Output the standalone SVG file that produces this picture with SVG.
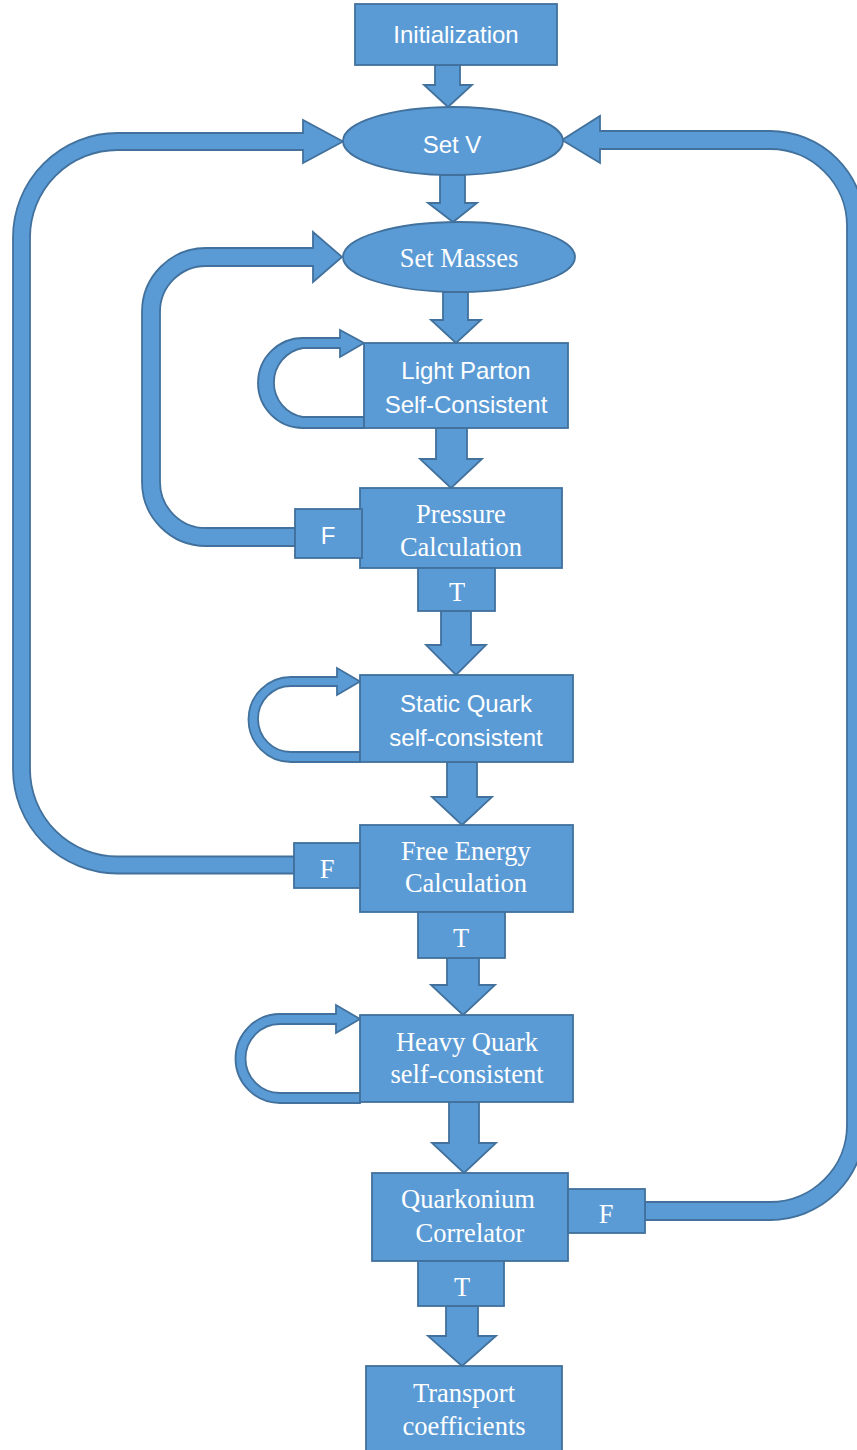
<svg xmlns="http://www.w3.org/2000/svg" width="857" height="1450" viewBox="0 0 857 1450">
<style>
.s{fill:#5B9BD5;stroke:#41719C;stroke-width:1.8;stroke-linejoin:miter}
.ts{font-family:"Liberation Sans",Arial,sans-serif;font-size:24px;fill:#fff;text-anchor:middle}
.tr{font-family:"Liberation Serif","Times New Roman",serif;font-size:26.5px;fill:#fff;text-anchor:middle}
</style>
<rect width="857" height="1450" fill="#fff"/>
<g id="connectors">
<path class="s" d="M 435 65 V 85 H 424 L 448 107 L 472 85 H 460 V 65 Z"/>
<path class="s" d="M 440 175 V 203 H 428 L 453 222 L 477 203 H 465 V 175 Z"/>
<path class="s" d="M 443 292 V 320 H 431 L 456 343 L 481 320 H 468 V 292 Z"/>
<path class="s" d="M 436 428 V 459 H 420 L 451 488 L 482 459 H 467 V 428 Z"/>
<path class="s" d="M 441 611 V 645 H 426 L 456 675 L 486 645 H 471 V 611 Z"/>
<path class="s" d="M 447 762 V 797 H 432 L 462 825 L 492 797 H 477 V 762 Z"/>
<path class="s" d="M 447 958 V 985 H 431 L 463 1015 L 495 985 H 479 V 958 Z"/>
<path class="s" d="M 449 1102 V 1143 H 432 L 464 1173 L 496 1143 H 479 V 1102 Z"/>
<path class="s" d="M 446 1306 V 1336 H 428 L 462 1366 L 496 1336 H 478 V 1306 Z"/>
<path class="s" d="M 294 856.5 H 117.5 A 87.5 87.5 0 0 1 30 769 V 237.5 A 87.5 87.5 0 0 1 117.5 150 H 303 V 163 L 343 141.5 L 303 120 V 133 H 117.5 A 104.5 104.5 0 0 0 13 237.5 V 769 A 104.5 104.5 0 0 0 117.5 873.5 H 294 Z"/>
<path class="s" d="M 295 528 H 206 A 46 46 0 0 1 160 482 V 312 A 46 46 0 0 1 206 266 H 313 V 282 L 342 257 L 313 232 V 248 H 206 A 64 64 0 0 0 142 312 V 482 A 64 64 0 0 0 206 546 H 295 Z"/>
<path class="s" d="M 645 1202 H 770 A 77 77 0 0 0 847 1125 V 226 A 77 77 0 0 0 770 149 H 600 V 163 L 562 140 L 600 116 V 131 H 770 A 95 95 0 0 1 865 226 V 1125 A 95 95 0 0 1 770 1220 H 645 Z"/>
<path class="s" d="M 364 417 H 303 A 35 35 0 0 1 303 348 H 340 V 357 L 364 343 L 340 330 V 338 H 303 A 45 45 0 0 0 303 428 H 364 Z"/>
<path class="s" d="M 360 752 H 291 A 33 33 0 0 1 291 686 H 337 V 695 L 360 681.5 L 337 668 V 677 H 291 A 42.5 42.5 0 0 0 291 762 H 360 Z"/>
<path class="s" d="M 360 1093 H 280 A 34.5 34.5 0 0 1 280 1024 H 336 V 1033 L 360 1019 L 336 1005 V 1014 H 280 A 44.5 44.5 0 0 0 280 1103 H 360 Z"/>
</g>
<g id="initialization"><rect class="s" x="355" y="4" width="202" height="61"/><text class="ts" x="456" y="43">Initialization</text></g>
<g id="set-v"><ellipse class="s" cx="453" cy="141" rx="110" ry="34"/><text class="ts" x="452" y="153">Set V</text></g>
<g id="set-masses"><ellipse class="s" cx="459" cy="257" rx="116" ry="35"/><text class="tr" x="459" y="267">Set Masses</text></g>
<g id="light-parton"><rect class="s" x="364" y="343" width="204" height="85"/><text class="ts" x="466" y="379">Light Parton</text><text class="ts" x="466" y="413">Self-Consistent</text></g>
<g id="pressure"><rect class="s" x="360" y="488" width="202" height="80"/><text class="tr" x="461" y="523">Pressure</text><text class="tr" x="461" y="556">Calculation</text></g>
<g id="pressure-f"><rect class="s" x="295" y="509" width="67" height="49"/><text class="ts" x="328" y="544">F</text></g>
<g id="pressure-t"><rect class="s" x="418" y="568" width="77" height="43"/><text class="tr" x="457" y="601">T</text></g>
<g id="static-quark"><rect class="s" x="360" y="675" width="213" height="87"/><text class="ts" x="466" y="712">Static Quark</text><text class="ts" x="466" y="746">self-consistent</text></g>
<g id="free-energy"><rect class="s" x="360" y="825" width="213" height="87"/><text class="tr" x="466" y="860">Free Energy</text><text class="tr" x="466" y="892">Calculation</text></g>
<g id="free-energy-f"><rect class="s" x="294" y="843" width="66" height="45"/><text class="tr" x="327" y="878">F</text></g>
<g id="free-energy-t"><rect class="s" x="418" y="912" width="87" height="46"/><text class="tr" x="461" y="947">T</text></g>
<g id="heavy-quark"><rect class="s" x="360" y="1015" width="213" height="87"/><text class="tr" x="467" y="1051">Heavy Quark</text><text class="tr" x="467" y="1083">self-consistent</text></g>
<g id="quarkonium"><rect class="s" x="372" y="1173" width="196" height="88"/><text class="tr" x="468" y="1208">Quarkonium</text><text class="tr" x="470" y="1242">Correlator</text></g>
<g id="quarkonium-f"><rect class="s" x="568" y="1189" width="77" height="44"/><text class="tr" x="606" y="1223">F</text></g>
<g id="quarkonium-t"><rect class="s" x="418" y="1261" width="86" height="45"/><text class="tr" x="462" y="1296">T</text></g>
<g id="transport"><rect class="s" x="366" y="1366" width="196" height="90"/><text class="tr" x="464" y="1402">Transport</text><text class="tr" x="464" y="1435">coefficients</text></g>
</svg>
